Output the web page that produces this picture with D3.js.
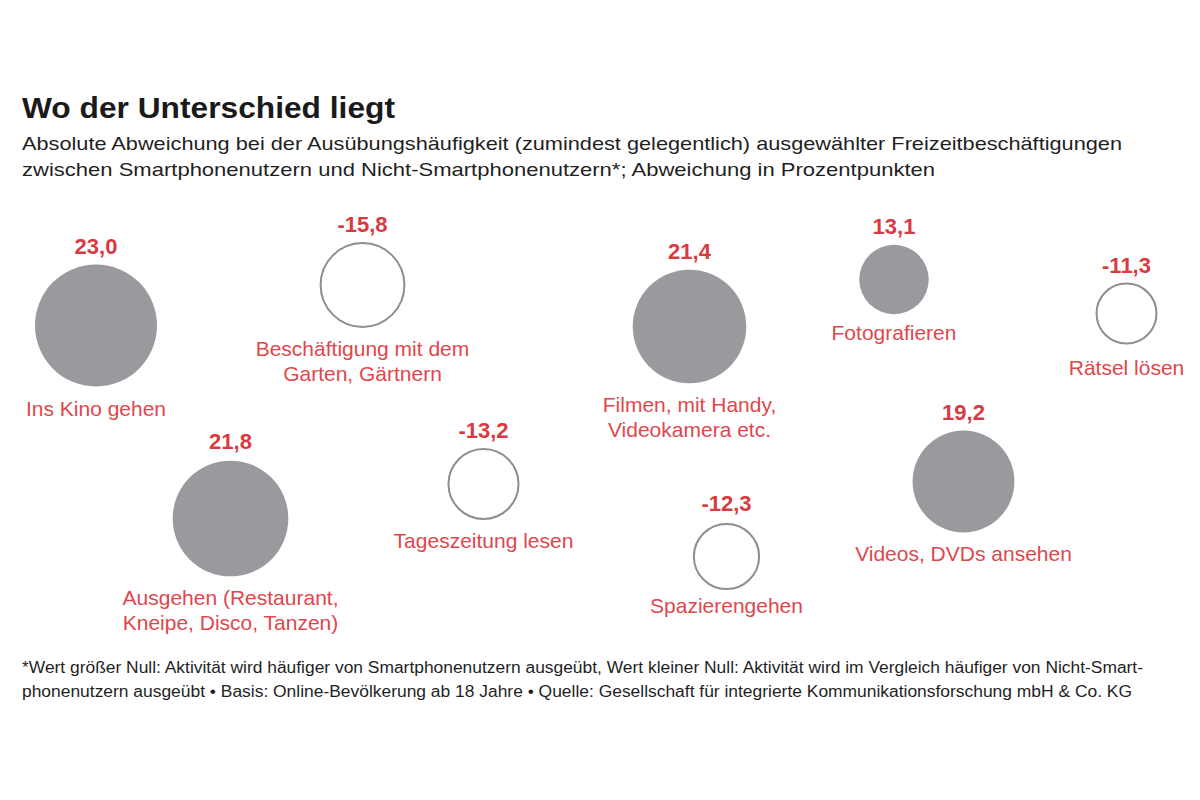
<!DOCTYPE html>
<html>
<head>
<meta charset="utf-8">
<script src="https://cdn.jsdelivr.net/npm/d3@7"></script>
<style>
  html, body { margin: 0; padding: 0; background: #ffffff; }
  svg { display: block; font-family: "Liberation Sans", Arial, Helvetica, sans-serif; }
</style>
</head>
<body>
<svg id="chart" width="1200" height="800"></svg>
<script>
// ---- data ----
const categories = [
  "Ins Kino gehen",
  "Beschäftigung mit dem\nGarten, Gärtnern",
  "Filmen, mit Handy,\nVideokamera etc.",
  "Fotografieren",
  "Rätsel lösen",
  "Ausgehen (Restaurant,\nKneipe, Disco, Tanzen)",
  "Tageszeitung lesen",
  "Spazierengehen",
  "Videos, DVDs ansehen"
];
const values = [23.0, -15.8, 21.4, 13.1, -11.3, 21.8, -13.2, -12.3, 19.2];

const titleText = "Wo der Unterschied liegt";
const subtitleLines = [
  "Absolute Abweichung bei der Ausübungshäufigkeit (zumindest gelegentlich) ausgewählter Freizeitbeschäftigungen",
  "zwischen Smartphonenutzern und Nicht-Smartphonenutzern*; Abweichung in Prozentpunkten"
];
const footnoteLines = [
  "*Wert größer Null: Aktivität wird häufiger von Smartphonenutzern ausgeübt, Wert kleiner Null: Aktivität wird im Vergleich häufiger von Nicht-Smart-",
  "phonenutzern ausgeübt • Basis: Online-Bevölkerung ab 18 Jahre • Quelle: Gesellschaft für integrierte Kommunikationsforschung mbH & Co. KG"
];

// ---- layout (bubble centres and label nudges, not data) ----
const layoutX = [96, 362.5, 689.5, 894, 1126.5, 230.5, 483.5, 726.5, 963.5];
const layoutY = [325.5, 285, 326.5, 279.5, 313.5, 518.5, 484, 556.5, 481.5];
const labelNudge = [0, 0, 0, -3, 3, 0, 0, -5, 0];
const valueNudge = [0, 0, 0, 0, 0, -1, 0, -2, 0];

// ---- styles ----
const RED_LABEL = "#e0474d";
const RED_VALUE = "#d93a41";
const GREY_FILL = "#9a9a9e";
const GREY_STROKE = "#8e8e8e";

const svg = d3.select("#chart");

const locale = d3.formatLocale({decimal: ",", thousands: ".", grouping: [3], currency: ["", "€"], minus: "-"});
const fmt = locale.format(".1f");

const rScale = d3.scaleLinear().domain([0, 23]).range([0, 61]);

// Title
svg.append("text")
  .attr("x", 22).attr("y", 118)
  .attr("font-size", 30).attr("font-weight", "bold").attr("fill", "#1a1a1a")
  .attr("textLength", 373).attr("lengthAdjust", "spacingAndGlyphs")
  .text(titleText);

const subLens = [1100, 913];
svg.append("g").selectAll("text").data(subtitleLines).join("text")
  .attr("x", 22).attr("y", (d, i) => 150 + i * 26)
  .attr("font-size", 19).attr("fill", "#1f1f1f")
  .attr("textLength", (d, i) => subLens[i]).attr("lengthAdjust", "spacingAndGlyphs")
  .text(d => d);

// Bubbles
const items = categories.map((c, i) => ({
  name: c, value: values[i], x: layoutX[i], y: layoutY[i],
  ln: labelNudge[i], vn: valueNudge[i]
}));

const g = svg.append("g");
const node = g.selectAll("g.item").data(items).join("g").attr("class", "item");

node.append("circle")
  .attr("cx", d => d.x).attr("cy", d => d.y)
  .attr("r", d => rScale(Math.abs(d.value)))
  .attr("fill", d => d.value >= 0 ? GREY_FILL : "#ffffff")
  .attr("stroke", d => d.value >= 0 ? "none" : GREY_STROKE)
  .attr("stroke-width", 2);

node.append("text")
  .attr("x", d => d.x)
  .attr("y", d => d.y - rScale(Math.abs(d.value)) - 11 + d.vn)
  .attr("text-anchor", "middle")
  .attr("font-size", 22).attr("font-weight", "bold").attr("fill", RED_VALUE)
  .text(d => fmt(d.value));

node.each(function(d) {
  const lines = d.name.split("\n");
  const t = d3.select(this).append("text")
    .attr("text-anchor", "middle")
    .attr("font-size", 21).attr("fill", RED_LABEL);
  lines.forEach((ln, k) => {
    t.append("tspan")
      .attr("x", d.x)
      .attr("y", d.y + rScale(Math.abs(d.value)) + 29 + d.ln + k * 25)
      .text(ln);
  });
});

// Footnote
const footLens = [1121, 1110];
svg.append("g").selectAll("text").data(footnoteLines).join("text")
  .attr("x", 22).attr("y", (d, i) => 673 + i * 24)
  .attr("font-size", 16).attr("fill", "#1f1f1f")
  .attr("textLength", (d, i) => footLens[i]).attr("lengthAdjust", "spacingAndGlyphs")
  .text(d => d);
</script>
</body>
</html>
